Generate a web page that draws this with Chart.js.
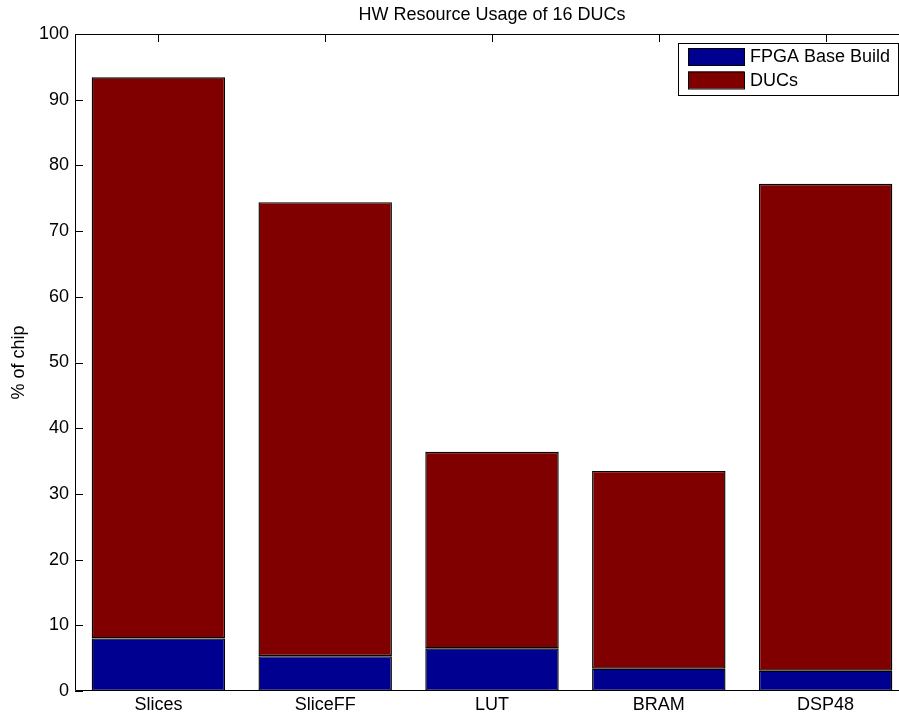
<!DOCTYPE html>
<html>
<head>
<meta charset="utf-8">
<title>HW Resource Usage of 16 DUCs</title>
<script src="https://cdn.jsdelivr.net/npm/chart.js@4.4.1/dist/chart.umd.min.js"></script>
<style>
  html, body { margin: 0; padding: 0; background: #fff; overflow: hidden; }
  #wrap { width: 899px; height: 719px; overflow: hidden; position: relative; }
  canvas { display: block; }
</style>
</head>
<body>
<div id="wrap"><canvas id="c" width="912" height="719"></canvas></div>
<script>
// Resource categories on the FPGA
const categories = ['Slices', 'SliceFF', 'LUT', 'BRAM', 'DSP48'];
// Percentage of chip used by the base build
const baseBuild = [8.0, 5.3, 6.5, 3.4, 3.1];
// Additional percentage used by the 16 DUCs
const ducs = [85.4, 69.1, 29.9, 30.1, 74.1];
// Y axis tick values
const yTicks = [0, 10, 20, 30, 40, 50, 60, 70, 80, 90, 100];

const FONT = '"Liberation Sans", Arial, Helvetica, sans-serif';

// Box frame with inward tick marks, plus a boxed legend in the upper right
const framePlugin = {
  id: 'frame',
  afterDraw(chart) {
    const ctx = chart.ctx;
    const a = chart.chartArea;
    const xs = chart.scales.x;
    const ys = chart.scales.y;
    const tickLen = 8;
    ctx.save();
    ctx.strokeStyle = '#000';
    ctx.lineWidth = 1;
    ctx.beginPath();
    ctx.rect(a.left + 0.5, a.top + 0.5, a.right - a.left - 1, a.bottom - a.top - 1);
    ctx.stroke();
    // left / right ticks
    ctx.beginPath();
    yTicks.forEach(v => {
      const y = Math.round(ys.getPixelForValue(v)) + 0.5;
      ctx.moveTo(a.left, y); ctx.lineTo(a.left + tickLen, y);
      ctx.moveTo(a.right, y); ctx.lineTo(a.right - tickLen, y);
    });
    // top ticks at category centres
    categories.forEach((c, i) => {
      const x = Math.round(xs.getPixelForValue(i)) + 0.5;
      ctx.moveTo(x, a.top); ctx.lineTo(x, a.top + tickLen);
    });
    ctx.stroke();

    // legend
    const bw = 220, bh = 52;
    const bx = a.right - 11 - bw, by = a.top + 9;
    ctx.fillStyle = '#fff';
    ctx.fillRect(bx, by, bw, bh);
    ctx.strokeRect(bx + 0.5, by + 0.5, bw, bh);
    ctx.font = '18px ' + FONT;
    ctx.textBaseline = 'middle';
    ctx.textAlign = 'left';
    chart.data.datasets.forEach((ds, i) => {
      const sy = by + 5 + i * 23.5;
      ctx.fillStyle = ds.backgroundColor;
      ctx.fillRect(bx + 10, sy, 56, 17);
      ctx.strokeStyle = '#000';
      ctx.strokeRect(bx + 10.5, sy + 0.5, 56, 17);
      ctx.fillStyle = '#000';
      ctx.fillText(ds.label, bx + 72, sy + 9.5);
    });
    ctx.restore();
  }
};

new Chart(document.getElementById('c'), {
  type: 'bar',
  data: {
    labels: categories,
    datasets: [
      { label: 'FPGA Base Build', data: baseBuild, backgroundColor: '#000090',
        borderColor: '#000', borderWidth: 1.4, borderSkipped: false },
      { label: 'DUCs', data: ducs, backgroundColor: '#800000',
        borderColor: '#000', borderWidth: 1.4, borderSkipped: false }
    ]
  },
  options: {
    responsive: false,
    animation: false,
    devicePixelRatio: 1,
    layout: { padding: { left: 0, right: 3, top: 0, bottom: 0 } },
    datasets: { bar: { barPercentage: 0.8, categoryPercentage: 1.0 } },
    plugins: {
      legend: { display: false },
      tooltip: { enabled: false },
      title: {
        display: true,
        text: 'HW Resource Usage of 16 DUCs',
        fullSize: false,
        color: '#000',
        font: { family: FONT, size: 18, weight: 'normal', lineHeight: 1.2 },
        padding: { top: 4, bottom: 8.4 }
      }
    },
    scales: {
      x: {
        stacked: true,
        grid: { display: false, drawTicks: false },
        border: { display: false },
        ticks: { color: '#000', font: { family: FONT, size: 18 }, padding: 3, maxRotation: 0 },
        afterFit(s) { s.height = 28; }
      },
      y: {
        stacked: true,
        min: 0, max: 100,
        grid: { display: false, drawTicks: false },
        border: { display: false },
        ticks: { color: '#000', font: { family: FONT, size: 18 }, padding: 6, stepSize: 10 },
        title: {
          display: true, text: '% of chip', color: '#000',
          font: { family: FONT, size: 18, lineHeight: 1.2 },
          padding: { top: 8, bottom: 0 }
        },
        afterFit(s) { s.width = 75; }
      }
    }
  },
  plugins: [framePlugin]
});
</script>
</body>
</html>
